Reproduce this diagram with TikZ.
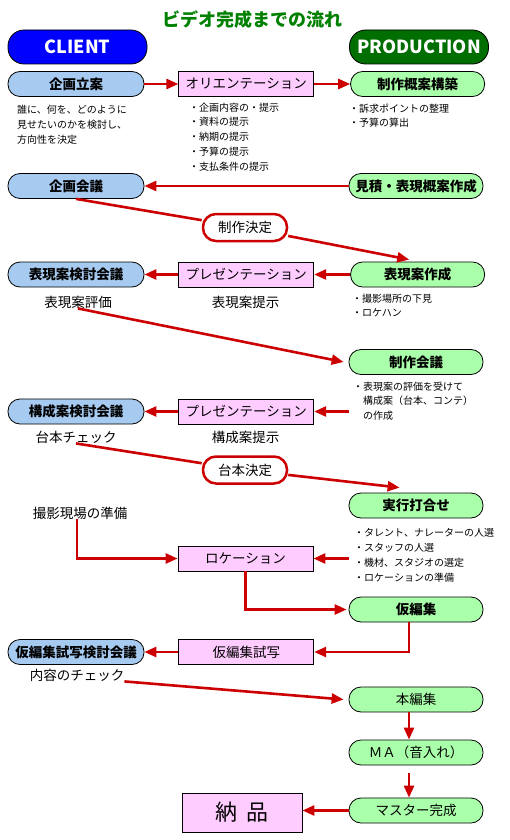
\documentclass[tikz,border=0pt]{standalone}
\usepackage{fontspec}
\setmainfont{Noto Sans CJK JP}
\usepackage{xcolor}
\usetikzlibrary{shapes.geometric, arrows.meta, positioning}
\definecolor{clientblue}{RGB}{0,0,255}
\definecolor{prodgreen}{RGB}{0,110,0}
\definecolor{clientfill}{RGB}{166,202,240}
\definecolor{centerfill}{RGB}{255,204,255}
\definecolor{prodfill}{RGB}{170,255,170}
\definecolor{flowred}{RGB}{204,0,0}
\definecolor{titlegreen}{RGB}{0,128,0}
\tikzstyle{headerbox} = [rectangle, rounded corners=16pt, minimum width=139pt, minimum height=34pt, inner sep=0pt, draw=black, line width=0.8pt, text=white, font=\fontsize{18}{18}\selectfont\bfseries]
\tikzstyle{clientbox} = [rectangle, rounded corners=12pt, minimum width=136pt, minimum height=25pt, inner sep=0pt, draw=black, line width=0.8pt, fill=clientfill, font=\fontsize{13.5}{14}\selectfont\bfseries]
\tikzstyle{centerbox} = [rectangle, minimum width=135pt, minimum height=25pt, inner sep=0pt, draw=black, line width=0.8pt, fill=centerfill, font=\fontsize{13.5}{14}\selectfont]
\tikzstyle{prodbox} = [rectangle, rounded corners=12pt, minimum width=134pt, minimum height=25pt, inner sep=0pt, draw=black, line width=0.8pt, fill=prodfill, font=\fontsize{13.5}{14}\selectfont\bfseries]
\tikzstyle{decisionbox} = [rectangle, rounded corners=13pt, minimum width=84pt, minimum height=27pt, inner sep=0pt, draw=flowred, line width=2.5pt, fill=white, font=\fontsize{13.5}{14}\selectfont]
\tikzstyle{memo} = [anchor=north west, inner sep=0pt, align=left, font=\fontsize{10}{14.8}\selectfont]
\tikzstyle{caption} = [inner sep=0pt, font=\fontsize{13.5}{14}\selectfont]
\tikzstyle{arrow} = [line width=2.6pt, draw=flowred, -{Triangle[length=12pt,width=10pt]}]
\tikzstyle{line} = [line width=2.6pt, draw=flowred]

\begin{document}
\begin{tikzpicture}[x=1pt, y=-1pt]
\useasboundingbox (0,0) rectangle (510,840);

% Title and headers
\node (title) [font=\fontsize{18}{18}\selectfont\bfseries, text=titlegreen] at (252,19.5) {ビデオ完成までの流れ};
\node (client) [headerbox, fill=clientblue] at (77.5,47) {CLIENT};
\node (production) [headerbox, fill=prodgreen] at (419,47) {PRODUCTION};

% Orientation
\node (kikaku-ritsuan) [clientbox] at (76,84) {企画立案};
\node (orient) [centerbox, right=34pt of kikaku-ritsuan] {オリエンテーション};
\node (gaian-kochiku) [prodbox, right=36pt of orient] {制作概案構築};
\node (ritsuan-memo) [memo] at (17,105) {誰に、何を、どのように\\見せたいのかを検討し、\\方向性を決定};
\node (orient-memo) [memo] at (189,102.5) {・企画内容の・提示\\・資料の提示\\・納期の提示\\・予算の提示\\・支払条件の提示};
\node (gaian-memo) [memo] at (349,103.5) {・訴求ポイントの整理\\・予算の算出};

% Planning meeting
\node (kikaku-kaigi) [clientbox] at (76,186) {企画会議};
\node (mitsumori) [prodbox] at (416,186) {見積・表現概案作成};
\node (seisaku-kettei) [decisionbox] at (245,227.5) {制作決定};

% First presentation
\node (hyogen-kento) [clientbox] at (76,274.5) {表現案検討会議};
\node (presen-hyogen) [centerbox, right=34pt of hyogen-kento] {プレゼンテーション};
\node (hyogen-sakusei) [prodbox, right=36pt of presen-hyogen] {表現案作成};
\node (hyogen-hyoka) [caption] at (78,302) {表現案評価};
\node (hyogen-teiji) [caption] at (245.5,302) {表現案提示};
\node (sakusei-memo) [memo] at (352,293.5) {・撮影場所の下見\\・ロケハン};

\node (seisaku-kaigi) [prodbox] at (416,362) {制作会議};
\node (kaigi-memo) [memo] at (353,381.5) {・表現案の評価を受けて\\　構成案（台本、コンテ）\\　の作成};

% Second presentation
\node (kosei-kento) [clientbox] at (76,411.5) {構成案検討会議};
\node (presen-kosei) [centerbox, right=34pt of kosei-kento] {プレゼンテーション};
\node (daihon-check) [caption] at (76,437) {台本チェック};
\node (kosei-teiji) [caption] at (245.5,437) {構成案提示};
\node (daihon-kettei) [decisionbox] at (245,470) {台本決定};

% Shooting and editing
\node (jikko) [prodbox] at (416,505.5) {実行打合せ};
\node (jikko-memo) [memo] at (354,528.5) {・タレント、ナレーターの人選\\・スタッフの人選\\・機材、スタジオの選定\\・ロケーションの準備};
\node (satsuei-junbi) [caption] at (80,513) {撮影現場の準備};
\node (location) [centerbox] at (245.5,558.5) {ロケーション};
\node (kari-henshu) [prodbox] at (416,609.5) {仮編集};

\node (kari-kento) [clientbox] at (76,652) {仮編集試写検討会議};
\node (kari-shisha) [centerbox, right=34pt of kari-kento] {仮編集試写};
\node (naiyo-check) [caption] at (77,675) {内容のチェック};

% Finishing
\node (hon-henshu) [prodbox, font=\fontsize{13.5}{14}\selectfont] at (416,699.5) {本編集};
\node (ma) [prodbox, font=\fontsize{13.5}{14}\selectfont] at (416,752.5) {ＭＡ（音入れ）};
\node (master) [prodbox, font=\fontsize{13.5}{14}\selectfont] at (416,810.5) {マスター完成};
\node (nohin) [centerbox, minimum width=120pt, minimum height=39pt, font=\fontsize{22}{22}\selectfont] at (242,812.5) {納\hspace{9pt}品};

% Arrows
\draw [arrow] (kikaku-ritsuan) -- (orient);
\draw [arrow] (orient) -- (gaian-kochiku);
\draw [arrow] (mitsumori) -- (kikaku-kaigi);
\draw [line] (kikaku-kaigi.south) -- (seisaku-kettei);
\draw [arrow] (seisaku-kettei) -- ([xshift=59pt,yshift=2pt]hyogen-sakusei.north west);

\draw [arrow] (hyogen-sakusei) -- (presen-hyogen);
\draw [arrow] (presen-hyogen) -- (hyogen-kento);
\draw [arrow] (hyogen-hyoka.south) -- ([xshift=-5pt]seisaku-kaigi.west);

\draw [arrow] (presen-kosei.east -| seisaku-kaigi.west) -- (presen-kosei);
\draw [arrow] (presen-kosei) -- (kosei-kento);
\draw [line] (daihon-check.south) -- (daihon-kettei);
\draw [arrow] (daihon-kettei) -- ([xshift=51pt,yshift=5pt]jikko.north west);

\draw [arrow] ([xshift=-3pt]satsuei-junbi.south) |- (location.west);
\draw [arrow] (location.east -| jikko.west) -- (location);
\draw [arrow] (location.south) |- ([xshift=-2pt]kari-henshu.west);
\draw [arrow] ([xshift=-7pt]kari-henshu.south) |- (kari-shisha.east);
\draw [arrow] (kari-shisha) -- (kari-kento);
\draw [arrow] (naiyo-check.south east) -- ([xshift=-5pt]hon-henshu.west);

\draw [arrow] ([xshift=-7pt]hon-henshu.south) -- ([xshift=-7pt]ma.north);
\draw [arrow] ([xshift=-7pt,yshift=-8pt]ma.south) -- ([xshift=-7pt]master.north);
\draw [arrow] (master.west) -- (master.west -| nohin.east);

\end{tikzpicture}
\end{document}
